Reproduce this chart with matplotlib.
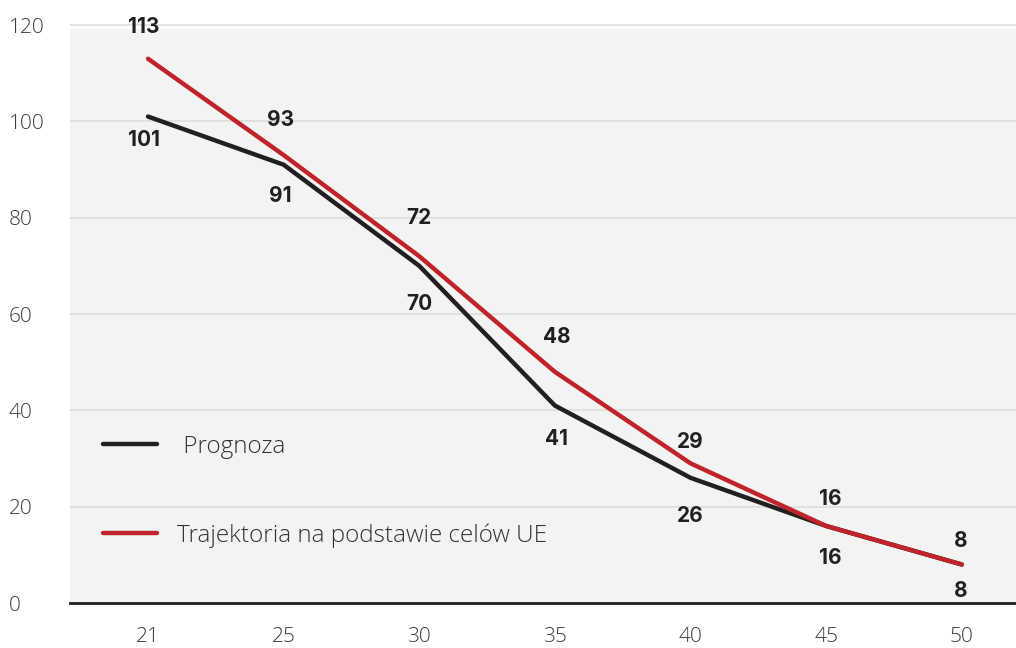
import matplotlib
matplotlib.use("Agg")
import matplotlib.pyplot as plt

years = ["21", "25", "30", "35", "40", "45", "50"]
prognoza = [101, 91, 70, 41, 26, 16, 8]
trajektoria = [113, 93, 72, 48, 29, 16, 8]
series_names = [" Prognoza", "Trajektoria na podstawie celów UE"]
y_ticks = [0, 20, 40, 60, 80, 100, 120]

BLACK = "#231f20"
RED = "#c1232b"
BG = "#f3f4f2"
GRID = "#dddddd"
TICK_COLOR = "#3c3c3c"

# value-label placement (offsets in pixels from each point)
red_dy = [32, 35, 38, 35, 21, 27, 23]
black_dy = [23, 31, 38, 33, 38, 32, 27]
label_dx = [-4, -3, 0, 2, 0, 4, -1]

plt.rcParams["font.family"] = ["Open Sans", "DejaVu Sans"]

fig = plt.figure(figsize=(10.16, 6.48), dpi=100)
ax = fig.add_axes([0.0689, 0.0694, 0.9311, 0.8957])
ax.set_facecolor("white")

x = list(range(len(years)))
ax.set_xlim(-0.575, 6.4)
ax.set_ylim(0, 120.5)

# plot background band and horizontal grid
ax.axhspan(0, 119.2, color=BG, zorder=0, lw=0)
for t in y_ticks[1:]:
    ax.axhline(t, color=GRID, lw=1.2, zorder=1)

ax.plot(x, prognoza, color=BLACK, lw=3.2, solid_capstyle="round",
        solid_joinstyle="round", zorder=3, label=series_names[0])
ax.plot(x, trajektoria, color=RED, lw=3.2, solid_capstyle="round",
        solid_joinstyle="round", zorder=4, label=series_names[1])

px = 72 / 100
label_kw = dict(ha="center", va="center", fontsize=15, fontweight="bold",
                family=["Inter", "Open Sans", "DejaVu Sans"],
                color=BLACK, textcoords="offset points", zorder=5)
for xi, v, dy, dx in zip(x, trajektoria, red_dy, label_dx):
    ax.annotate(f"{v}", (xi, v), xytext=(dx * px, dy * px), **label_kw)
for xi, v, dy, dx in zip(x, prognoza, black_dy, label_dx):
    ax.annotate(f"{v}", (xi, v), xytext=(dx * px, -dy * px), **label_kw)

for s in ["top", "right", "left"]:
    ax.spines[s].set_visible(False)
ax.spines["bottom"].set_color(BLACK)
ax.spines["bottom"].set_linewidth(2)
ax.spines["bottom"].set_zorder(6)

ax.set_xticks(x)
ax.set_xticklabels(years)
ax.set_yticks(y_ticks)
ax.tick_params(axis="x", length=0, pad=17, labelsize=15, labelcolor=TICK_COLOR)
ax.tick_params(axis="y", length=0, pad=44, labelsize=15, labelcolor=TICK_COLOR)
for lab in ax.get_yticklabels():
    lab.set_horizontalalignment("left")
for lab in ax.get_xticklabels() + ax.get_yticklabels():
    lab.set_fontweight("light")

leg = ax.legend(loc="lower left", bbox_to_anchor=(0.035, 0.095), frameon=False,
                fontsize=17.5, handlelength=2.22, handletextpad=0.82,
                labelspacing=2.65, borderpad=0, borderaxespad=0)
for txt in leg.get_texts():
    txt.set_color("#333333")
    txt.set_fontweight("light")

fig.savefig("out.png", dpi=100, facecolor="white")
